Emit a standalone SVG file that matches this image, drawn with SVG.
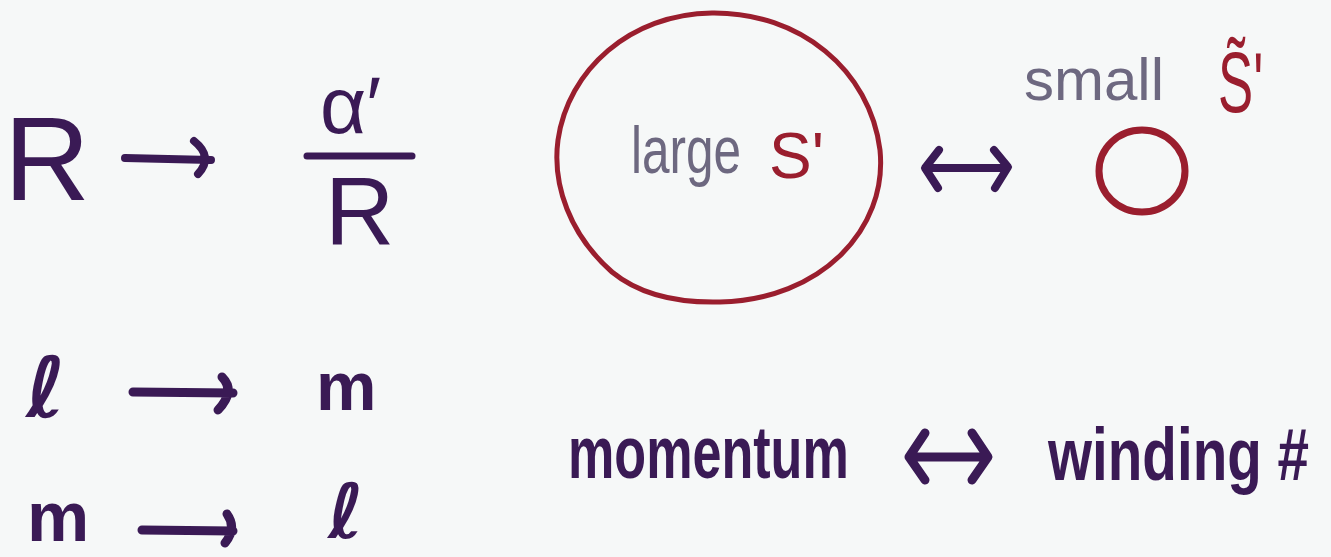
<svg xmlns="http://www.w3.org/2000/svg" width="1331" height="557" viewBox="0 0 1331 557">
<style>
.ink{fill:#3a1a55;font-family:"Liberation Sans",sans-serif}
.b{font-weight:bold}
.dj{font-family:"DejaVu Sans",sans-serif}
.gray{fill:#6d6880;font-family:"Liberation Sans",sans-serif}
.red{fill:#9a1e2e;font-family:"Liberation Sans",sans-serif}
.stroke{fill:none;stroke:#3a1a55;stroke-linecap:round;stroke-linejoin:round}
.rstroke{fill:none;stroke:#9a1e2e;stroke-linecap:round;stroke-linejoin:round}
</style>
<rect width="1331" height="557" fill="#f6f8f8"/>
<g id="r-to-alpha">
<text class="ink" x="4" y="200" font-size="119">R</text>
<text class="ink" x="320" y="133" font-size="80">α′</text>
<line class="stroke" x1="307" y1="156" x2="412" y2="156" stroke-width="7"/>
<text class="ink" x="325" y="245" font-size="96">R</text>
</g>
<g id="l-to-m">
<text class="ink dj b" x="26" y="417" font-size="84">ℓ</text>
<text class="ink b" x="316" y="410" font-size="68">m</text>
</g>
<g id="m-to-l">
<text class="ink b" x="27" y="541" font-size="70">m</text>
<text class="ink dj b" x="328" y="538" font-size="76">ℓ</text>
</g>
<g id="large-circle">
<path class="rstroke" stroke-width="5" d="M612,272 C570,235 552,185 558,140 C568,70 630,14 712,13 C800,12 870,70 880,150 C888,230 820,300 720,302 C680,303 640,295 612,272"/>
<text class="gray" transform="translate(631,173) scale(0.75,1)" font-size="66">large</text>
<text class="red" x="769" y="178" font-size="64">S'</text>
</g>
<g id="small-circle">
<text class="gray" x="1024" y="100" font-size="60">small</text>
<text class="red dj" transform="translate(1218,112) scale(0.62,1)" font-size="85">S̃'</text>
<ellipse class="rstroke" cx="1142" cy="171" rx="43" ry="41" stroke-width="7"/>
</g>
<g id="momentum-winding">
<text class="ink b" transform="translate(568,478) scale(0.704,1)" font-size="74">momentum</text>
<text class="ink b" transform="translate(1048,480) scale(0.765,1)" font-size="74">winding #</text>
</g>
<g id="connectors">
<path class="stroke" stroke-width="8" d="M125,158 L211,160 M194,141 Q214,157 198,174"/>
<path class="stroke" stroke-width="9" d="M133,392 L233,393 M222,377 Q236,391 218,410"/>
<path class="stroke" stroke-width="9" d="M142,530 L233,531 M227,514 Q237,528 225,543"/>
<path class="stroke" stroke-width="8" d="M926,168 L1007,168 M939,150 L925,168 L938,188 M994,150 L1008,167 L995,188"/>
<path class="stroke" stroke-width="9" d="M909,457 L987,457 M925,433 L909,457 L925,480 M972,433 L988,457 L972,480"/>
</g>
</svg>
